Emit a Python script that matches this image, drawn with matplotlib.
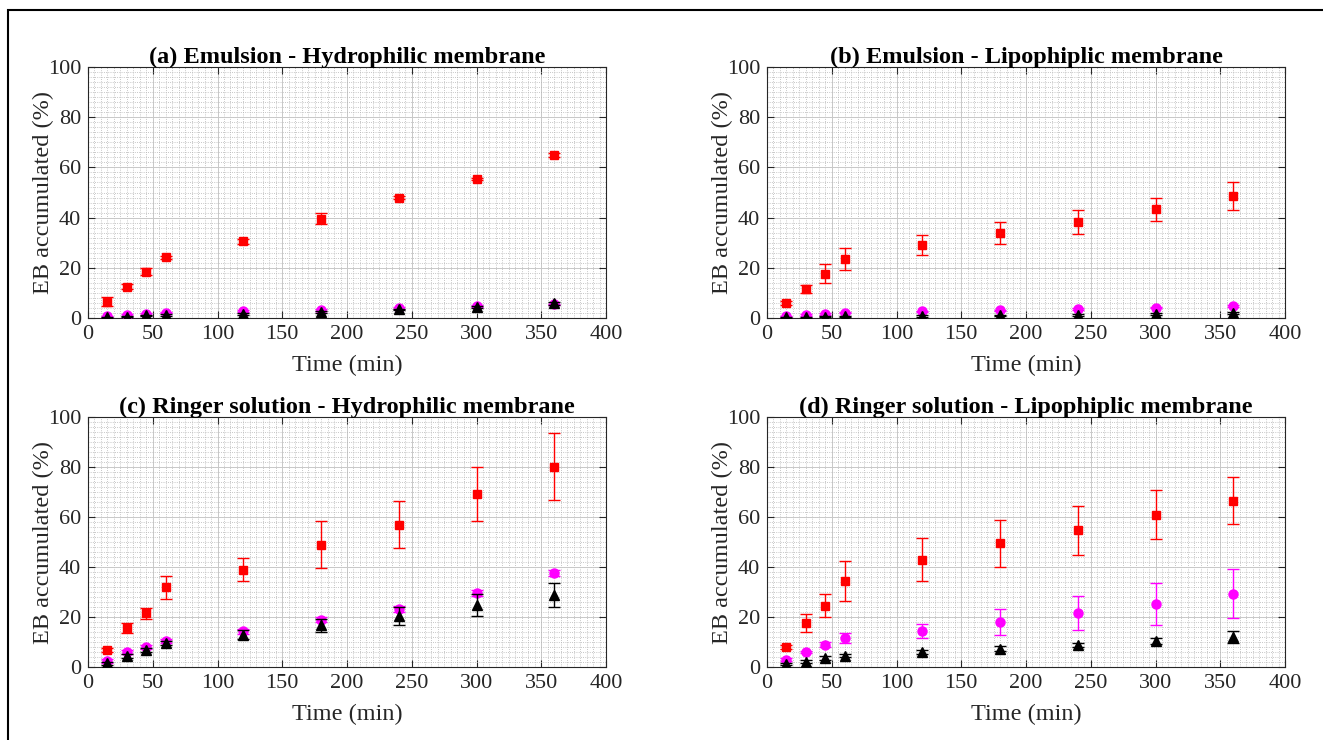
import matplotlib
matplotlib.use('Agg')
import matplotlib.pyplot as plt
from matplotlib.patches import Rectangle
from matplotlib.ticker import MultipleLocator

plt.rcParams['font.family'] = ['Liberation Serif', 'DejaVu Serif']

# sampling times (min)
times = [15, 30, 45, 60, 120, 180, 240, 300, 360]

# (a) Emulsion - Hydrophilic membrane
a_red = [6.5, 12.5, 18.5, 24.2, 30.5, 39.5, 48.0, 55.5, 65.0]
a_red_err = [1.8, 1.0, 1.5, 0.7, 0.9, 2.2, 0.7, 0.4, 0.9]
a_mag = [0.6, 1.1, 1.6, 2.1, 2.7, 3.2, 4.0, 4.8, 5.4]
a_mag_err = [0.3, 0.3, 0.3, 0.3, 0.3, 0.3, 0.3, 0.3, 0.3]
a_blk = [0.3, 0.5, 1.0, 1.1, 1.5, 2.4, 3.4, 4.5, 5.8]
a_blk_err = [0.2, 0.2, 0.3, 0.3, 0.3, 0.3, 0.3, 0.4, 0.6]

# (b) Emulsion - Lipophiplic membrane
b_red = [6.0, 11.5, 17.6, 23.5, 29.0, 33.9, 38.4, 43.4, 48.7]
b_red_err = [0.9, 1.7, 3.8, 4.2, 4.0, 4.3, 4.8, 4.6, 5.5]
b_mag = [0.6, 1.1, 1.6, 2.1, 2.6, 3.0, 3.6, 4.1, 4.6]
b_mag_err = [0.3, 0.3, 0.3, 0.3, 0.3, 0.3, 0.3, 0.3, 0.4]
b_blk = [0.2, 0.3, 0.5, 0.6, 0.8, 1.0, 1.2, 1.5, 1.8]
b_blk_err = [0.2, 0.2, 0.2, 0.2, 0.3, 0.3, 0.3, 0.3, 0.4]

# (c) Ringer solution - Hydrophilic membrane
c_red = [7.0, 15.5, 21.5, 32.0, 39.0, 49.0, 57.0, 69.2, 80.2]
c_red_err = [0.8, 2.0, 2.3, 4.6, 4.7, 9.5, 9.5, 10.7, 13.5]
c_mag = [2.5, 6.0, 8.0, 10.6, 14.3, 19.0, 23.2, 29.8, 37.7]
c_mag_err = [0.8, 0.8, 0.8, 0.8, 1.0, 1.0, 1.2, 1.2, 1.3]
c_blk = [1.5, 4.5, 7.0, 9.6, 13.0, 16.8, 20.5, 24.7, 29.0]
c_blk_err = [0.6, 0.8, 0.8, 0.9, 1.7, 2.6, 3.6, 4.4, 4.8]

# (d) Ringer solution - Lipophiplic membrane
d_red = [8.0, 17.6, 24.5, 34.3, 43.0, 49.5, 54.8, 61.0, 66.5]
d_red_err = [0.9, 3.5, 4.6, 8.0, 8.5, 9.5, 9.8, 9.7, 9.4]
d_mag = [3.0, 6.0, 9.0, 11.5, 14.5, 18.0, 21.6, 25.2, 29.4]
d_mag_err = [0.5, 0.5, 1.0, 2.0, 2.8, 5.1, 6.8, 8.5, 9.8]
d_blk = [1.2, 2.2, 3.5, 4.6, 6.0, 7.3, 9.0, 10.4, 12.0]
d_blk_err = [0.5, 0.5, 0.8, 0.5, 0.8, 1.0, 0.8, 1.2, 2.3]

titles = ['(a) Emulsion - Hydrophilic membrane',
          '(b) Emulsion - Lipophiplic membrane',
          '(c) Ringer solution - Hydrophilic membrane',
          '(d) Ringer solution - Lipophiplic membrane']

panels = [(a_red, a_red_err, a_mag, a_mag_err, a_blk, a_blk_err),
          (b_red, b_red_err, b_mag, b_mag_err, b_blk, b_blk_err),
          (c_red, c_red_err, c_mag, c_mag_err, c_blk, c_blk_err),
          (d_red, d_red_err, d_mag, d_mag_err, d_blk, d_blk_err)]

W, H = 1323, 740
fig = plt.figure(figsize=(W / 100, H / 100), dpi=100)

# axes boxes in pixels: left, right, top, bottom
boxes = [(88, 606, 67, 318), (767, 1285, 67, 318),
         (88, 606, 417, 667), (767, 1285, 417, 667)]

txt = '#262626'

for box, title, data in zip(boxes, titles, panels):
    l, r, t, b = box
    ax = fig.add_axes([l / W, 1 - b / H, (r - l) / W, (b - t) / H])
    red, red_err, mag, mag_err, blk, blk_err = data

    ax.errorbar(times, red, yerr=red_err, fmt='s', color='red', ms=5.5,
                capsize=4, elinewidth=1, capthick=1, zorder=3)
    ax.errorbar(times, mag, yerr=mag_err, fmt='o', color='magenta', ms=6.5,
                capsize=4, elinewidth=1, capthick=1, zorder=4)
    ax.errorbar(times, blk, yerr=blk_err, fmt='^', color='black', ms=6.5,
                capsize=4, elinewidth=1, capthick=1, zorder=5)

    ax.set_xlim(0, 400)
    ax.set_ylim(0, 100)
    ax.xaxis.set_major_locator(MultipleLocator(50))
    ax.xaxis.set_minor_locator(MultipleLocator(5))
    ax.yaxis.set_major_locator(MultipleLocator(20))
    ax.yaxis.set_minor_locator(MultipleLocator(2))

    ax.grid(which='major', color='#c8c8c8', lw=0.7)
    ax.grid(which='minor', color='#b4b4b4', lw=0.6, ls=':')
    ax.set_axisbelow(True)

    ax.tick_params(which='major', direction='in', top=True, right=True,
                   length=5, width=0.8, labelsize=16, colors=txt, pad=5)
    ax.tick_params(which='minor', length=0)
    for s in ax.spines.values():
        s.set_color(txt)
        s.set_linewidth(0.8)

    ax.set_title(title, fontsize=17.5, fontweight='bold', pad=3)
    ax.set_xlabel('Time (min)', fontsize=17.5, color=txt)
    ax.set_ylabel('EB accumulated (%)', fontsize=17.5, color=txt)
    ax.xaxis.set_label_coords(0.5, -47 / (b - t), transform=ax.transAxes)
    ax.yaxis.set_label_coords(-45 / (r - l), 0.5, transform=ax.transAxes)
    ax.xaxis.label.set_va('center')
    ax.yaxis.label.set_va('center')

# outer frame (only left and top edges are inside the picture)
fig.patches.append(Rectangle((7.5 / W, -0.1), 1.2, 1 - 10 / H + 0.1,
                             transform=fig.transFigure, fill=False,
                             edgecolor='black', lw=1.5))

fig.savefig('out.png', dpi=100)
